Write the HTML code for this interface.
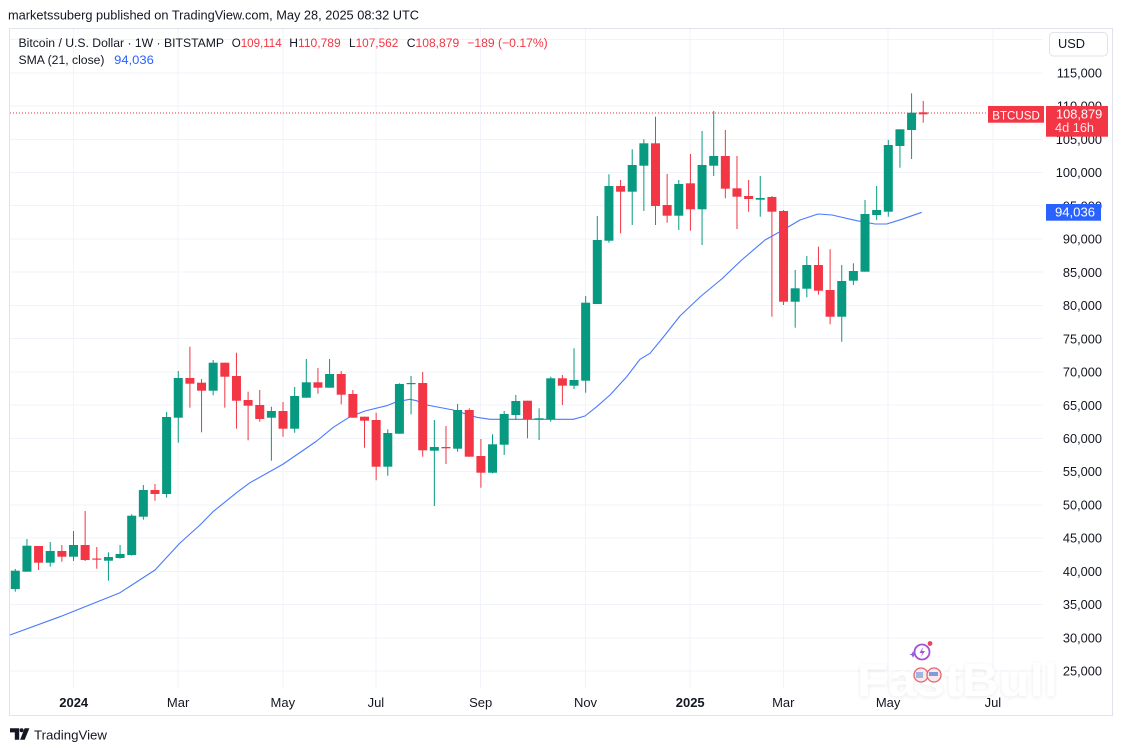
<!DOCTYPE html>
<html><head><meta charset="utf-8">
<style>
html,body{margin:0;padding:0;background:#fff;width:1123px;height:751px;overflow:hidden}
svg{display:block}
text{font-family:"Liberation Sans",Arial,sans-serif}
</style></head>
<body>
<svg width="1123" height="751" viewBox="0 0 1123 751" xmlns="http://www.w3.org/2000/svg">
<defs>
<filter id="wm" x="-10%" y="-30%" width="120%" height="160%">
<feGaussianBlur in="SourceAlpha" stdDeviation="2.2" result="b"/>
<feOffset dx="0" dy="1" result="o"/>
<feFlood flood-color="#000" flood-opacity="0.10"/>
<feComposite in2="o" operator="in" result="s"/>
<feMerge><feMergeNode in="s"/><feMergeNode in="SourceGraphic"/></feMerge>
</filter>
</defs>
<rect width="1123" height="751" fill="#fff"/>

<!-- header -->
<text x="8" y="19.5" font-size="12.7" fill="#131722" textLength="411" lengthAdjust="spacingAndGlyphs">marketssuberg published on TradingView.com, May 28, 2025 08:32 UTC</text>

<!-- frame -->
<rect x="9.5" y="28.5" width="1103" height="687" fill="none" stroke="#e0e3eb" stroke-width="1"/>

<!-- grid -->
<g stroke="#f0f3fa" stroke-width="1" shape-rendering="crispEdges">
<line x1="10" x2="1043" y1="39.6" y2="39.6"/>
<line x1="10" x2="1043" y1="72.8" y2="72.8"/>
<line x1="10" x2="1043" y1="106" y2="106"/>
<line x1="10" x2="1043" y1="139.3" y2="139.3"/>
<line x1="10" x2="1043" y1="172.5" y2="172.5"/>
<line x1="10" x2="1043" y1="205.7" y2="205.7"/>
<line x1="10" x2="1043" y1="239" y2="239"/>
<line x1="10" x2="1043" y1="272.2" y2="272.2"/>
<line x1="10" x2="1043" y1="305.4" y2="305.4"/>
<line x1="10" x2="1043" y1="338.7" y2="338.7"/>
<line x1="10" x2="1043" y1="371.9" y2="371.9"/>
<line x1="10" x2="1043" y1="405.2" y2="405.2"/>
<line x1="10" x2="1043" y1="438.4" y2="438.4"/>
<line x1="10" x2="1043" y1="471.6" y2="471.6"/>
<line x1="10" x2="1043" y1="504.8" y2="504.8"/>
<line x1="10" x2="1043" y1="538.1" y2="538.1"/>
<line x1="10" x2="1043" y1="571.3" y2="571.3"/>
<line x1="10" x2="1043" y1="604.5" y2="604.5"/>
<line x1="10" x2="1043" y1="637.8" y2="637.8"/>
<line x1="10" x2="1043" y1="671" y2="671"/>
<line x1="73.5" x2="73.5" y1="29" y2="688"/>
<line x1="178.1" x2="178.1" y1="29" y2="688"/>
<line x1="282.8" x2="282.8" y1="29" y2="688"/>
<line x1="375.9" x2="375.9" y1="29" y2="688"/>
<line x1="480.7" x2="480.7" y1="29" y2="688"/>
<line x1="585.5" x2="585.5" y1="29" y2="688"/>
<line x1="690.2" x2="690.2" y1="29" y2="688"/>
<line x1="783.3" x2="783.3" y1="29" y2="688"/>
<line x1="888.1" x2="888.1" y1="29" y2="688"/>
<line x1="992.9" x2="992.9" y1="29" y2="688"/>
</g>

<!-- watermark -->
<g opacity="0.9">
<text x="857" y="696" font-size="46" font-weight="bold" fill="#ffffff" filter="url(#wm)" textLength="201" lengthAdjust="spacingAndGlyphs">FastBull</text>
<circle cx="922" cy="652" r="7.5" fill="none" stroke="#9b3fd6" stroke-width="1.8"/>
<path d="M923.5 646.5 L919.5 653 H922.5 L920.5 657.5 L925 651 H922 Z" fill="#9b3fd6"/>
<circle cx="930" cy="643.5" r="2.4" fill="#e8334a"/>
<path d="M913 651 L914 653.5 L916.5 654.5 L914 655.5 L913 658 L912 655.5 L909.5 654.5 L912 653.5 Z" fill="#8a4bdc"/>
<circle cx="921" cy="675" r="7" fill="#f6e8ea" stroke="#e05565" stroke-width="1.3"/>
<circle cx="934" cy="675" r="7" fill="#f6e8ea" stroke="#e05565" stroke-width="1.3"/>
<rect x="929" y="672" width="9" height="4" fill="#3b6fd0" opacity="0.7"/>
<rect x="916" y="672" width="7" height="6" fill="#3b6fd0" opacity="0.5"/>
</g>

<!-- current price dotted line -->
<line x1="10" x2="988" y1="113" y2="113" stroke="#f23645" stroke-width="1" stroke-dasharray="1 2"/>

<!-- SMA -->
<polyline fill="none" stroke="#2962ff" stroke-opacity="0.85" stroke-width="1.1" stroke-linejoin="round" points="10,635 60,616.7 120,592.7 155,570 180,543 200,525 213,511.7 237,492.3 250,482.7 283.3,464 316.7,441 333.3,427.3 350,416.7 365,411 386.7,405.7 396.7,401.7 410,399.3 416.7,400.7 426.7,405 453.3,410 476.7,417.3 490,419.3 573.3,419.3 585,416 596.7,406.7 610,395 626.7,376.7 640,359.3 650,353.3 665,335 680,316 700,297 721.7,279 741.7,260 765,240 783,230 800,220 818,214 832,215 856.7,220.7 875,224 886.7,224 901.7,219.3 921.7,212.3"/>

<!-- green candles -->
<g fill="#089981">
<rect x="10.8" y="570.7" width="9" height="18.3"/><rect x="14.8" y="569" width="1" height="22.7"/>
<rect x="22.44" y="545.7" width="9" height="26"/><rect x="26.44" y="539" width="1" height="32.7"/>
<rect x="45.72" y="551" width="9" height="11.7"/><rect x="49.72" y="542" width="1" height="24.7"/>
<rect x="69" y="545" width="9" height="11.7"/><rect x="73" y="531" width="1" height="30"/>
<rect x="103.92" y="557" width="9" height="3.7"/><rect x="107.92" y="552.3" width="1" height="28.4"/>
<rect x="115.56" y="554" width="9" height="4"/><rect x="119.56" y="545" width="1" height="13.7"/>
<rect x="127.2" y="515.7" width="9" height="39.3"/><rect x="131.2" y="514.3" width="1" height="41.4"/>
<rect x="138.84" y="490" width="9" height="26.7"/><rect x="142.84" y="485" width="1" height="34.7"/>
<rect x="162.12" y="417" width="9" height="77"/><rect x="166.12" y="412" width="1" height="85.7"/>
<rect x="173.76" y="378" width="9" height="39.7"/><rect x="177.76" y="371" width="1" height="71.7"/>
<rect x="208.68" y="362.7" width="9" height="28"/><rect x="212.68" y="360" width="1" height="35.3"/>
<rect x="266.88" y="411" width="9" height="6.7"/><rect x="270.88" y="406.7" width="1" height="54"/>
<rect x="290.16" y="396" width="9" height="32.7"/><rect x="294.16" y="387" width="1" height="45.7"/>
<rect x="301.8" y="382.3" width="9" height="15.4"/><rect x="305.8" y="359" width="1" height="38.7"/>
<rect x="325.08" y="374" width="9" height="13.7"/><rect x="329.08" y="359" width="1" height="28.7"/>
<rect x="383.28" y="433" width="9" height="33.7"/><rect x="387.28" y="429.3" width="1" height="46.4"/>
<rect x="394.92" y="384" width="9" height="49.7"/><rect x="398.92" y="383.3" width="1" height="50.4"/>
<rect x="406.56" y="383" width="9" height="1.2"/><rect x="410.56" y="376" width="1" height="38.3"/>
<rect x="429.84" y="447" width="9" height="3.7"/><rect x="433.84" y="420" width="1" height="86"/>
<rect x="453.12" y="410" width="9" height="38.7"/><rect x="457.12" y="404" width="1" height="47.7"/>
<rect x="488.04" y="444.3" width="9" height="28.4"/><rect x="492.04" y="434.3" width="1" height="39"/>
<rect x="499.68" y="414" width="9" height="30.7"/><rect x="503.68" y="411" width="1" height="44"/>
<rect x="511.32" y="401" width="9" height="14"/><rect x="515.32" y="395" width="1" height="25"/>
<rect x="534.6" y="418.3" width="9" height="1.4"/><rect x="538.6" y="408.3" width="1" height="31.7"/>
<rect x="546.24" y="378.3" width="9" height="41"/><rect x="550.24" y="376.7" width="1" height="45"/>
<rect x="569.52" y="380" width="9" height="5.7"/><rect x="573.52" y="348.3" width="1" height="40.7"/>
<rect x="581.16" y="302.7" width="9" height="78"/><rect x="585.16" y="296" width="1" height="96.7"/>
<rect x="592.8" y="240" width="9" height="64"/><rect x="596.8" y="216" width="1" height="88"/>
<rect x="604.44" y="186" width="9" height="54.7"/><rect x="608.44" y="174.3" width="1" height="68.4"/>
<rect x="627.72" y="165" width="9" height="26.7"/><rect x="631.72" y="149.3" width="1" height="75.7"/>
<rect x="639.36" y="143.3" width="9" height="22.4"/><rect x="643.36" y="139.3" width="1" height="71.7"/>
<rect x="674.28" y="184" width="9" height="31.7"/><rect x="678.28" y="180" width="1" height="50"/>
<rect x="697.56" y="165" width="9" height="44.3"/><rect x="701.56" y="131" width="1" height="114"/>
<rect x="709.2" y="156" width="9" height="9.7"/><rect x="713.2" y="111" width="1" height="65"/>
<rect x="755.76" y="198" width="9" height="1.7"/><rect x="759.76" y="176" width="1" height="40.7"/>
<rect x="790.68" y="288.3" width="9" height="13.4"/><rect x="794.68" y="270" width="1" height="57.7"/>
<rect x="802.32" y="265" width="9" height="23.7"/><rect x="806.32" y="256" width="1" height="41.3"/>
<rect x="837.24" y="281" width="9" height="35.7"/><rect x="841.24" y="265" width="1" height="76.7"/>
<rect x="848.88" y="271" width="9" height="9.7"/><rect x="852.88" y="263.3" width="1" height="21.7"/>
<rect x="860.52" y="214" width="9" height="57.7"/><rect x="864.52" y="200" width="1" height="71.7"/>
<rect x="872.16" y="210" width="9" height="5"/><rect x="876.16" y="186" width="1" height="34"/>
<rect x="883.8" y="145" width="9" height="66.7"/><rect x="887.8" y="140" width="1" height="76.7"/>
<rect x="895.44" y="129.3" width="9" height="16.7"/><rect x="899.44" y="129.3" width="1" height="38.4"/>
<rect x="907.08" y="112.7" width="9" height="17.3"/><rect x="911.08" y="93.3" width="1" height="65.7"/>
</g>

<!-- red candles -->
<g fill="#f23645">
<rect x="34.08" y="546" width="9" height="16.7"/><rect x="38.08" y="546" width="1" height="24"/>
<rect x="57.36" y="551" width="9" height="5.7"/><rect x="61.36" y="545" width="1" height="16.7"/>
<rect x="80.64" y="545" width="9" height="15"/><rect x="84.64" y="511" width="1" height="50"/>
<rect x="92.28" y="558.5" width="9" height="1.2"/><rect x="96.28" y="547" width="1" height="21.7"/>
<rect x="150.48" y="490" width="9" height="4"/><rect x="154.48" y="484" width="1" height="16.7"/>
<rect x="185.4" y="378" width="9" height="5.7"/><rect x="189.4" y="346.7" width="1" height="61"/>
<rect x="197.04" y="382.7" width="9" height="8"/><rect x="201.04" y="379" width="1" height="53.3"/>
<rect x="220.32" y="362.7" width="9" height="14"/><rect x="224.32" y="362.7" width="1" height="45"/>
<rect x="231.96" y="376" width="9" height="24.7"/><rect x="235.96" y="352.7" width="1" height="76"/>
<rect x="243.6" y="400" width="9" height="5.7"/><rect x="247.6" y="391.7" width="1" height="48.6"/>
<rect x="255.24" y="405" width="9" height="14"/><rect x="259.24" y="390" width="1" height="31.7"/>
<rect x="278.52" y="411" width="9" height="17.7"/><rect x="282.52" y="402" width="1" height="34.7"/>
<rect x="313.44" y="382.3" width="9" height="5.4"/><rect x="317.44" y="368" width="1" height="25.7"/>
<rect x="336.72" y="374" width="9" height="20.7"/><rect x="340.72" y="371" width="1" height="33.3"/>
<rect x="348.36" y="394" width="9" height="23.7"/><rect x="352.36" y="390" width="1" height="27.7"/>
<rect x="360" y="416.7" width="9" height="4"/><rect x="364" y="416.7" width="1" height="31"/>
<rect x="371.64" y="420" width="9" height="46.7"/><rect x="375.64" y="412.7" width="1" height="67.6"/>
<rect x="418.2" y="383" width="9" height="67.3"/><rect x="422.2" y="372" width="1" height="84.7"/>
<rect x="441.48" y="447" width="9" height="1.3"/><rect x="445.48" y="426" width="1" height="38"/>
<rect x="464.76" y="410" width="9" height="46.7"/><rect x="468.76" y="408.3" width="1" height="48.4"/>
<rect x="476.4" y="456" width="9" height="16.7"/><rect x="480.4" y="439" width="1" height="48.7"/>
<rect x="522.96" y="400.7" width="9" height="18.6"/><rect x="526.96" y="400.7" width="1" height="37.6"/>
<rect x="557.88" y="378.3" width="9" height="7.4"/><rect x="561.88" y="375" width="1" height="30"/>
<rect x="616.08" y="186" width="9" height="5.7"/><rect x="620.08" y="180" width="1" height="53.3"/>
<rect x="651" y="143.3" width="9" height="62.7"/><rect x="655" y="116.7" width="1" height="108.3"/>
<rect x="662.64" y="205" width="9" height="10.7"/><rect x="666.64" y="174" width="1" height="48.7"/>
<rect x="685.92" y="183.3" width="9" height="26"/><rect x="689.92" y="154" width="1" height="76.7"/>
<rect x="720.84" y="156" width="9" height="32.7"/><rect x="724.84" y="130" width="1" height="68.3"/>
<rect x="732.48" y="188.3" width="9" height="8.4"/><rect x="736.48" y="156" width="1" height="73"/>
<rect x="744.12" y="196" width="9" height="3"/><rect x="748.12" y="180" width="1" height="31.7"/>
<rect x="767.4" y="197" width="9" height="14.7"/><rect x="771.4" y="196" width="1" height="120.7"/>
<rect x="779.04" y="211" width="9" height="90.7"/><rect x="783.04" y="210" width="1" height="95"/>
<rect x="813.96" y="265" width="9" height="25.7"/><rect x="817.96" y="246.7" width="1" height="48"/>
<rect x="825.6" y="290" width="9" height="26.7"/><rect x="829.6" y="249.3" width="1" height="75"/>
<rect x="918.72" y="112.3" width="9" height="2"/><rect x="922.72" y="101" width="1" height="21.7"/>
</g>

<!-- legend -->
<text x="18.5" y="47" font-size="12.2" fill="#131722" textLength="205.5" lengthAdjust="spacingAndGlyphs">Bitcoin / U.S. Dollar · 1W · BITSTAMP</text>
<text x="231.7" y="47" font-size="12.2" fill="#131722" textLength="50" lengthAdjust="spacingAndGlyphs">O<tspan fill="#f23645">109,114</tspan></text>
<text x="289.3" y="47" font-size="12.2" fill="#131722" textLength="51.4" lengthAdjust="spacingAndGlyphs">H<tspan fill="#f23645">110,789</tspan></text>
<text x="349" y="47" font-size="12.2" fill="#131722" textLength="49.3" lengthAdjust="spacingAndGlyphs">L<tspan fill="#f23645">107,562</tspan></text>
<text x="406.7" y="47" font-size="12.2" fill="#131722" textLength="52.6" lengthAdjust="spacingAndGlyphs">C<tspan fill="#f23645">108,879</tspan></text>
<text x="467.3" y="47" font-size="12.2" fill="#f23645" textLength="80.4" lengthAdjust="spacingAndGlyphs">−189 (−0.17%)</text>
<text x="18.5" y="63.8" font-size="12.2" fill="#131722" textLength="86" lengthAdjust="spacingAndGlyphs">SMA (21, close)</text>
<text x="114.2" y="63.8" font-size="12.2" fill="#2962ff" textLength="39.6" lengthAdjust="spacingAndGlyphs">94,036</text>

<!-- USD button -->
<rect x="1049.5" y="32.5" width="58" height="23.5" rx="4" fill="#fff" stroke="#e0e3eb"/>
<text x="1058" y="47.9" font-size="12.8" fill="#131722">USD</text>

<!-- price axis labels -->
<g font-size="12.8" fill="#131722" text-anchor="end">
<text x="1102" y="77.4">115,000</text>
<text x="1102" y="110.6">110,000</text>
<text x="1102" y="143.9">105,000</text>
<text x="1102" y="177.1">100,000</text>
<text x="1102" y="210.3">95,000</text>
<text x="1102" y="243.6">90,000</text>
<text x="1102" y="276.8">85,000</text>
<text x="1102" y="310">80,000</text>
<text x="1102" y="343.3">75,000</text>
<text x="1102" y="376.5">70,000</text>
<text x="1102" y="409.8">65,000</text>
<text x="1102" y="443">60,000</text>
<text x="1102" y="476.2">55,000</text>
<text x="1102" y="509.4">50,000</text>
<text x="1102" y="542.7">45,000</text>
<text x="1102" y="575.9">40,000</text>
<text x="1102" y="609.1">35,000</text>
<text x="1102" y="642.4">30,000</text>
<text x="1102" y="675.6">25,000</text>
</g>

<!-- price tags -->
<rect x="988" y="106" width="56" height="16.7" fill="#f23645"/>
<text x="992.3" y="119.3" font-size="12" fill="#fff" textLength="47.5" lengthAdjust="spacingAndGlyphs">BTCUSD</text>
<rect x="1046" y="106" width="62" height="30.7" fill="#f23645"/>
<text x="1056" y="118.6" font-size="12.8" fill="#fff" textLength="46.3" lengthAdjust="spacingAndGlyphs">108,879</text>
<text x="1055" y="132.2" font-size="12.8" fill="#fde3e6" textLength="39" lengthAdjust="spacingAndGlyphs">4d 16h</text>
<rect x="1046" y="204" width="55" height="16.7" fill="#2962ff"/>
<text x="1055" y="216.3" font-size="12.8" fill="#fff" textLength="40" lengthAdjust="spacingAndGlyphs">94,036</text>

<!-- time axis -->
<g font-size="13" fill="#131722" text-anchor="middle">
<text x="73.7" y="706.9" font-weight="bold">2024</text>
<text x="178.1" y="706.9">Mar</text>
<text x="282.8" y="706.9">May</text>
<text x="375.9" y="706.9">Jul</text>
<text x="480.7" y="706.9">Sep</text>
<text x="585.5" y="706.9">Nov</text>
<text x="690.2" y="706.9" font-weight="bold">2025</text>
<text x="783.3" y="706.9">Mar</text>
<text x="888.1" y="706.9">May</text>
<text x="992.9" y="706.9">Jul</text>
</g>

<!-- TradingView logo -->
<g fill="#131722">
<path d="M10 728.3h9.2v11.4h-4.4v-7.3H10z"/>
<circle cx="21.6" cy="730.3" r="2"/>
<path d="M24.6 728.3h4.8l-4.7 11.4h-4.6z"/>
</g>
<text x="34" y="739.6" font-size="13" fill="#131722" textLength="73" lengthAdjust="spacingAndGlyphs">TradingView</text>
</svg>
</body></html>
